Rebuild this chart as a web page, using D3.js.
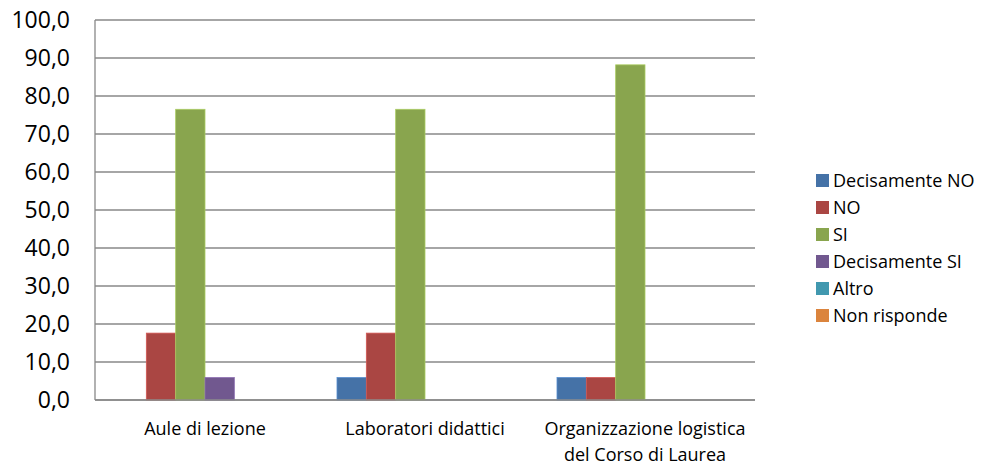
<!DOCTYPE html>
<html>
<head>
<meta charset="utf-8">
<script src="https://cdn.jsdelivr.net/npm/d3@7"></script>
<style>
  body { margin: 0; background: #fff; }
  svg { display: block; font-family: "Open Sans", sans-serif; }
</style>
</head>
<body>
<svg id="chart" width="985" height="469"></svg>
<script>
// Categorie e serie
const categories = ['Aule di lezione', 'Laboratori didattici', 'Organizzazione logistica\ndel Corso di Laurea'];
const seriesNames = ['Decisamente NO', 'NO', 'SI', 'Decisamente SI', 'Altro', 'Non risponde'];
const decisamenteNo = [0, 5.9, 5.9];
const no = [17.6, 17.6, 5.9];
const si = [76.5, 76.5, 88.2];
const decisamenteSi = [5.9, 0, 0];
const altro = [0, 0, 0];
const nonRisponde = [0, 0, 0];
const yTicks = [0, 10, 20, 30, 40, 50, 60, 70, 80, 90, 100];

const seriesValues = [decisamenteNo, no, si, decisamenteSi, altro, nonRisponde];
const colors = ['#4572A7', '#AA4643', '#89A54E', '#71588F', '#4198AF', '#DB843D'];

const svg = d3.select('#chart');
const margin = { top: 20, right: 230, bottom: 69, left: 95 };
const width = 985, height = 469;
const innerWidth = width - margin.left - margin.right;
const innerHeight = height - margin.top - margin.bottom;

const g = svg.append('g').attr('transform', `translate(${margin.left},${margin.top})`);

const x0 = d3.scaleBand().domain(categories).range([0, innerWidth]).paddingInner(0.2).paddingOuter(0.1);
const x1 = d3.scaleBand().domain(seriesNames).range([0, x0.bandwidth()]);
const y = d3.scaleLinear().domain([0, 100]).range([innerHeight, 0]);

// Griglia
g.append('g')
  .selectAll('line')
  .data(yTicks)
  .enter().append('line')
  .attr('x1', 0).attr('x2', innerWidth)
  .attr('y1', d => y(d)).attr('y2', d => y(d))
  .attr('stroke', '#888').attr('stroke-width', 1.3);

// Barre
const data = [];
categories.forEach((c, i) => {
  seriesNames.forEach((s, j) => {
    data.push({ cat: c, serie: s, value: seriesValues[j][i], color: colors[j] });
  });
});

g.selectAll('.bar')
  .data(data.filter(d => d.value > 0))
  .enter().append('rect')
  .attr('x', d => x0(d.cat) + x1(d.serie))
  .attr('y', d => y(d.value))
  .attr('width', x1.bandwidth())
  .attr('height', d => y(0) - y(d.value))
  .attr('fill', d => d.color)
  .attr('stroke', d => d3.color(d.color).brighter(0.6))
  .attr('stroke-width', 0.8);

// Assi
g.append('line')
  .attr('x1', 0).attr('x2', 0).attr('y1', 0).attr('y2', innerHeight)
  .attr('stroke', '#888').attr('stroke-width', 1.3);
g.append('line')
  .attr('x1', 0).attr('x2', innerWidth).attr('y1', innerHeight).attr('y2', innerHeight)
  .attr('stroke', '#888').attr('stroke-width', 1.3);

const fmt = d => d.toFixed(1).replace('.', ',');
g.selectAll('.ytick')
  .data(yTicks)
  .enter().append('text')
  .attr('x', -25)
  .attr('y', d => y(d))
  .attr('dy', '0.35em')
  .attr('text-anchor', 'end')
  .style('font-size', '23px')
  .style('fill', '#000')
  .text(fmt);

// Etichette categorie
categories.forEach(c => {
  const lines = c.split('\n');
  const t = g.append('text')
    .attr('text-anchor', 'middle')
    .attr('x', x0(c) + x0.bandwidth() / 2)
    .attr('y', innerHeight + 35)
    .style('font-size', '18px')
    .style('fill', '#000');
  lines.forEach((l, i) => {
    t.append('tspan')
      .attr('x', x0(c) + x0.bandwidth() / 2)
      .attr('dy', i === 0 ? 0 : 26)
      .text(l);
  });
});

// Legenda
const legend = svg.append('g').attr('transform', 'translate(816,174)');
seriesNames.forEach((s, i) => {
  const row = legend.append('g').attr('transform', `translate(0,${i * 27})`);
  row.append('rect').attr('width', 13).attr('height', 13).attr('fill', colors[i]);
  row.append('text')
    .attr('x', 17).attr('y', 7).attr('dy', '0.35em')
    .style('font-size', '18px')
    .style('fill', '#000')
    .text(s);
});
</script>
</body>
</html>
